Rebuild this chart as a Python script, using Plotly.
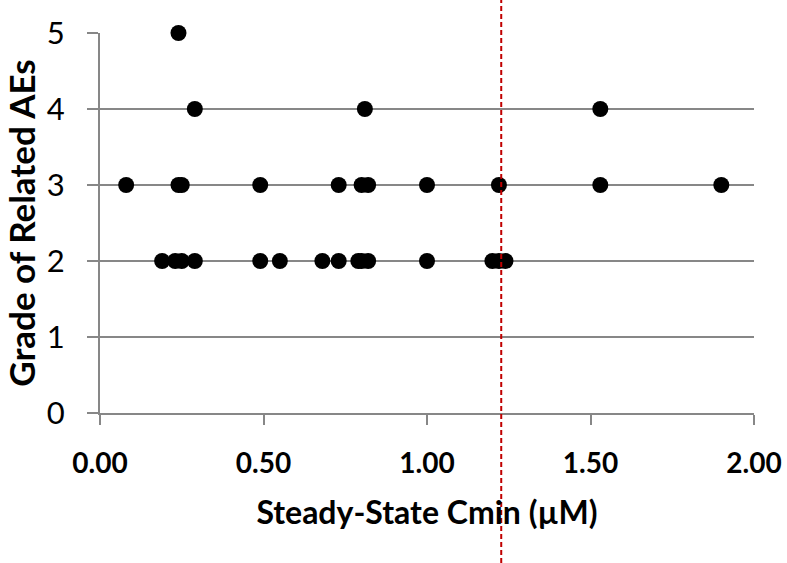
import plotly.graph_objects as go

grade5_x = [0.24]
grade4_x = [0.29, 0.81, 1.53]
grade3_x = [0.08, 0.24, 0.25, 0.49, 0.73, 0.80, 0.82, 1.00, 1.22, 1.53, 1.90]
grade2_x = [0.19, 0.23, 0.25, 0.29, 0.49, 0.55, 0.68, 0.73, 0.79, 0.80, 0.82, 1.00, 1.20, 1.22, 1.24]
threshold = 1.227

x_ticks = [0, 0.5, 1.0, 1.5, 2.0]
x_tick_labels = ["0.00", "0.50", "1.00", "1.50", "2.00"]
y_ticks = [0, 1, 2, 3, 4, 5]

xs = grade5_x + grade4_x + grade3_x + grade2_x
ys = [5] * len(grade5_x) + [4] * len(grade4_x) + [3] * len(grade3_x) + [2] * len(grade2_x)

FONT = "Lato"
GRID = "#878787"

fig = go.Figure()
fig.add_trace(go.Scatter(
    x=xs, y=ys, mode="markers",
    marker=dict(color="black", size=16, line=dict(width=0)),
    cliponaxis=False, showlegend=False,
))

W, H = 787, 563
ml, mr, mt, mb = 100, 33, 33, 150
ph = H - mt - mb

fig.add_shape(type="line", xref="x", yref="paper",
              x0=threshold, x1=threshold, y0=-mb / ph, y1=1 + mt / ph,
              line=dict(color="#C00000", width=2, dash="5px,3px"), layer="above")

fig.update_layout(
    width=W, height=H, autosize=False,
    margin=dict(l=ml, r=mr, t=mt, b=mb),
    plot_bgcolor="white", paper_bgcolor="white",
    font=dict(family=FONT, color="black"),
    xaxis=dict(
        range=[0, 2], tickvals=x_ticks, ticktext=x_tick_labels,
        automargin=False,
        showgrid=False, zeroline=False,
        showline=True, linecolor=GRID, linewidth=2,
        ticks="outside", ticklen=10, tickwidth=2, tickcolor=GRID,
        tickfont=dict(family=FONT, size=28, color="black", weight="bold"),
        ticklabelstandoff=14,
        title=dict(text="<b>Steady-State Cmin (µM)</b>", font=dict(family=FONT, size=32, color="black"), standoff=24),
    ),
    yaxis=dict(
        range=[0, 5], tickvals=y_ticks,
        automargin=False,
        showgrid=True, gridcolor=GRID, gridwidth=2,
        zeroline=False,
        showline=True, linecolor=GRID, linewidth=2,
        ticks="outside", ticklen=11, tickwidth=2, tickcolor=GRID,
        tickfont=dict(family=FONT, size=31, color="black"),
        ticklabelstandoff=16,
        title=dict(text="<b>Grade of Related AEs</b>", font=dict(family=FONT, size=35, color="black"), standoff=2),
    ),
)

fig.write_html(
    "out.html",
    config={"displayModeBar": False, "responsive": False},
    post_script="document.body.style.margin='0';document.body.style.overflow='hidden';",
)
